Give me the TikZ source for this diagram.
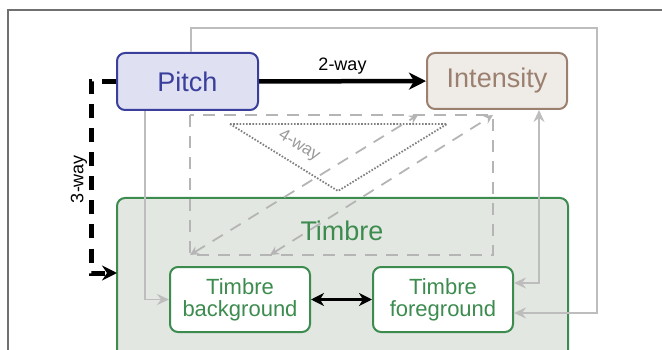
\documentclass[tikz,border=0pt]{standalone}
\usepackage{fontspec}
\setmainfont{Liberation Sans}
\usetikzlibrary{arrows.meta}
\definecolor{pitchfill}{HTML}{DFE0F2}
\definecolor{pitchdraw}{HTML}{3B3F9C}
\definecolor{intfill}{HTML}{EFEBE7}
\definecolor{intdraw}{HTML}{9B8070}
\definecolor{timfill}{HTML}{E3E7E1}
\definecolor{timdraw}{HTML}{3D8C4F}
\definecolor{lgray}{HTML}{BDBDBD}
\definecolor{dgray}{HTML}{B5B5B5}
\definecolor{frame}{HTML}{707070}
\tikzset{
  box/.style={draw, rounded corners=8pt, line width=2pt, inner sep=0pt, align=center},
  bigtext/.style={font=\fontsize{27}{30}\selectfont},
  subbox/.style={box, fill=white, draw=timdraw, text=timdraw, minimum width=140pt, minimum height=65pt, font=\fontsize{22}{22}\selectfont},
  grayconn/.style={draw=lgray, line width=1.8pt},
  graytip/.style={-{Stealth[length=12pt,width=11pt,inset=4pt]}},
  dashgray/.style={draw=dgray, line width=1.8pt, dash pattern=on 12pt off 9pt},
  lbl/.style={font=\fontsize{18}{18}\selectfont},
}
\begin{document}
\begin{tikzpicture}[x=1pt,y=-1pt]
\useasboundingbox (0,0) rectangle (662,350);
\clip (0,0) rectangle (662,350);
% frame
\draw[frame, line width=1.5pt] (8,352) -- (8,10) -- (664,10);
% timbre big box
\node[box, fill=timfill, draw=timdraw, minimum width=451pt, minimum height=172pt] (timbre) at (342.5,284) {};
\node[text=timdraw, bigtext] (timbrelabel) at (342,231) {Timbre};
% dashed gray rectangle and diagonals
\draw[dashgray] (190,115) rectangle (493,255);
\coordinate (a1) at (190,255);
\coordinate (a2) at (418,115);
\coordinate (b1) at (270,255);
\coordinate (b2) at (493,115);
\draw[dashgray, {Stealth[length=9pt,width=9pt,inset=3pt]}-{Stealth[length=9pt,width=9pt,inset=3pt]}] (a1) -- (a2);
\draw[dashgray, {Stealth[length=9pt,width=9pt,inset=3pt]}-{Stealth[length=9pt,width=9pt,inset=3pt]}] (b1) -- (b2);
% dotted triangle
\coordinate (d1) at (230,124);
\coordinate (d2) at (447,124);
\coordinate (d3) at (338,191);
\draw[draw=gray, line width=1.8pt, dash pattern=on 1.6pt off 1.6pt] (d1) -- (d2) -- (d3) -- cycle;
\node[text=gray!80, font=\fontsize{17}{17}\selectfont, rotate=-31.8] (fourway) at (299,146) {4-way};
% main boxes
\node[box, fill=pitchfill, draw=pitchdraw, text=pitchdraw, bigtext, minimum width=141pt, minimum height=57pt] (pitch) at (187.5,81.5) {Pitch};
\node[box, fill=intfill, draw=intdraw, text=intdraw, bigtext, minimum width=140pt, minimum height=56pt] (intensity) at (497,81) {Intensity};
\node[subbox] (bg) at (240,299.5) {Timbre\\background};
\node[subbox] (fg) at (443,299.5) {Timbre\\foreground};
% 2-way
\draw[line width=4.5pt, -{Stealth[length=17pt,width=17pt,inset=5pt]}] (pitch) -- (intensity) node[midway, above=1pt, lbl] (twoway) {2-way};
% 3-way
\coordinate (t3) at (117,273);
\draw[line width=5pt, dash pattern=on 14pt off 10pt, -{Stealth[length=15pt,width=15pt,inset=5pt]}] (pitch.west) -- ++(-25,0) |- (t3);
\node[lbl, rotate=90] (threeway) at (79,179) {3-way};
% gray connectors
\draw[grayconn, graytip] ([xshift=-42.5pt]pitch.south) |- (bg.west);
\coordinate (c1) at (597,28);
\coordinate (c2) at (597,313);
\draw[grayconn, graytip] ([xshift=3.5pt]pitch.north) |- (c1) -- (c2) -- ([yshift=-13.5pt]fg.east);
\draw[grayconn, {Stealth[length=12pt,width=11pt,inset=4pt]}-{Stealth[length=12pt,width=11pt,inset=4pt]}] ([xshift=42pt]intensity.south) |- ([yshift=16.5pt]fg.east);
% black double arrow
\draw[line width=3.5pt, {Stealth[length=13pt,width=13pt,inset=4pt]}-{Stealth[length=13pt,width=13pt,inset=4pt]}] (bg) -- (fg);
\end{tikzpicture}
\end{document}
